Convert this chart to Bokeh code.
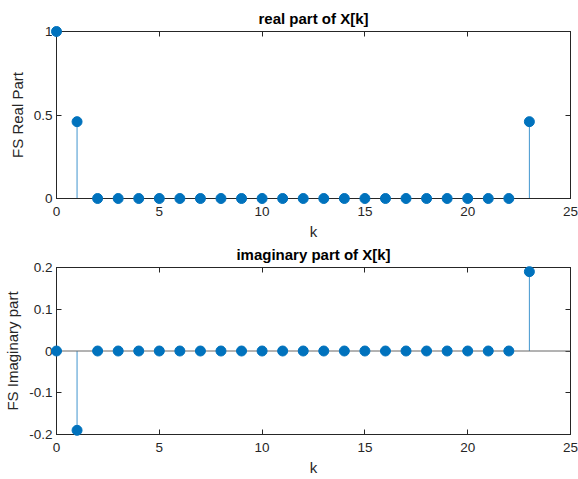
from bokeh.plotting import figure
from bokeh.layouts import column
from bokeh.models import Range1d, LinearAxis, FixedTicker, Span, CustomLabelingPolicy
from bokeh.embed import file_html
from bokeh.resources import INLINE

k = [0, 1, 2, 3, 4, 5, 6, 7, 8, 9, 10, 11, 12, 13, 14, 15, 16, 17, 18, 19, 20, 21, 22, 23]
real_part = [1.0, 0.46, 0, 0, 0, 0, 0, 0, 0, 0, 0, 0, 0, 0, 0, 0, 0, 0, 0, 0, 0, 0, 0, 0.46]
imag_part = [0.0, -0.19, 0, 0, 0, 0, 0, 0, 0, 0, 0, 0, 0, 0, 0, 0, 0, 0, 0, 0, 0, 0, 0, 0.19]

x_ticks = [0, 5, 10, 15, 20, 25]
x_tick_labels = ["0", "5", "10", "15", "20", "25"]
real_ticks = [0, 0.5, 1]
real_tick_labels = ["0", "0.5", "1"]
imag_ticks = [-0.2, -0.1, 0, 0.1, 0.2]
imag_tick_labels = ["-0.2", "-0.1", "0", "0.1", "0.2"]

FONT = "Liberation Sans"
AX = "#262626"
BLUE = "#0072BD"


def style_axis(ax, show_labels):
    ax.axis_line_color = AX
    ax.major_tick_line_color = AX
    ax.major_tick_in = 5
    ax.major_tick_out = 0
    ax.minor_tick_line_color = None
    ax.major_label_text_font = FONT
    ax.major_label_text_color = AX
    ax.axis_label_text_font = FONT
    ax.axis_label_text_font_size = "15px"
    ax.axis_label_text_font_style = "normal"
    ax.axis_label_text_color = AX
    if show_labels:
        ax.major_label_text_font_size = "13.5px"
    else:
        ax.major_label_text_font_size = "1px"
        ax.major_label_standoff = 0
        ax.major_label_policy = CustomLabelingPolicy(code="return new Set()")


def make_fig(title, ylabel, yr, yticks, ylabels, values, height, btop, bbottom, baseline):
    p = figure(width=578, height=height, x_range=Range1d(0, 25), y_range=Range1d(*yr),
               output_backend="svg", toolbar_location=None,
               min_border_left=56, min_border_right=8,
               min_border_top=btop, min_border_bottom=bbottom)
    p.title.text = title
    p.title.align = "center"
    p.title.text_font = FONT
    p.title.text_font_size = "15px"
    p.title.text_font_style = "bold"
    p.title.text_color = "#000000"
    p.title.standoff = 2
    p.grid.visible = False
    p.outline_line_color = AX
    p.background_fill_color = "white"
    p.border_fill_color = "white"

    p.xaxis.ticker = FixedTicker(ticks=x_ticks)
    p.xaxis.major_label_overrides = dict(zip(x_ticks, x_tick_labels))
    p.xaxis.axis_label = "k"
    p.yaxis.ticker = FixedTicker(ticks=yticks)
    p.yaxis.major_label_overrides = dict(zip(yticks, ylabels))
    p.yaxis.axis_label = ylabel
    style_axis(p.xaxis[0], True)
    style_axis(p.yaxis[0], True)
    p.xaxis.major_label_standoff = 8
    p.xaxis.axis_label_standoff = 4
    p.yaxis.major_label_standoff = 4
    p.yaxis.axis_label_standoff = 5

    top = LinearAxis(ticker=FixedTicker(ticks=x_ticks))
    right = LinearAxis(ticker=FixedTicker(ticks=yticks))
    style_axis(top, False)
    style_axis(right, False)
    p.add_layout(top, "above")
    p.add_layout(right, "right")

    if baseline:
        p.add_layout(Span(location=0, dimension="width", line_color="#666666", line_width=1))

    y0 = [0] * len(k)
    p.segment(x0=k, y0=y0, x1=k, y1=values, line_color=BLUE, line_width=1, line_alpha=0.75)
    p.scatter(k, values, size=10, fill_color=BLUE, line_color=BLUE, marker="circle",
              level="overlay")
    return p


p1 = make_fig("real part of X[k]", "FS Real Part", (0, 1), real_ticks, real_tick_labels,
              real_part, 242, 31, 44, False)
p2 = make_fig("imaginary part of X[k]", "FS Imaginary part", (-0.2, 0.2), imag_ticks,
              imag_tick_labels, imag_part, 237, 25, 45, True)

layout = column(p1, p2, spacing=0)
open("out.html", "w").write(file_html(layout, INLINE))
